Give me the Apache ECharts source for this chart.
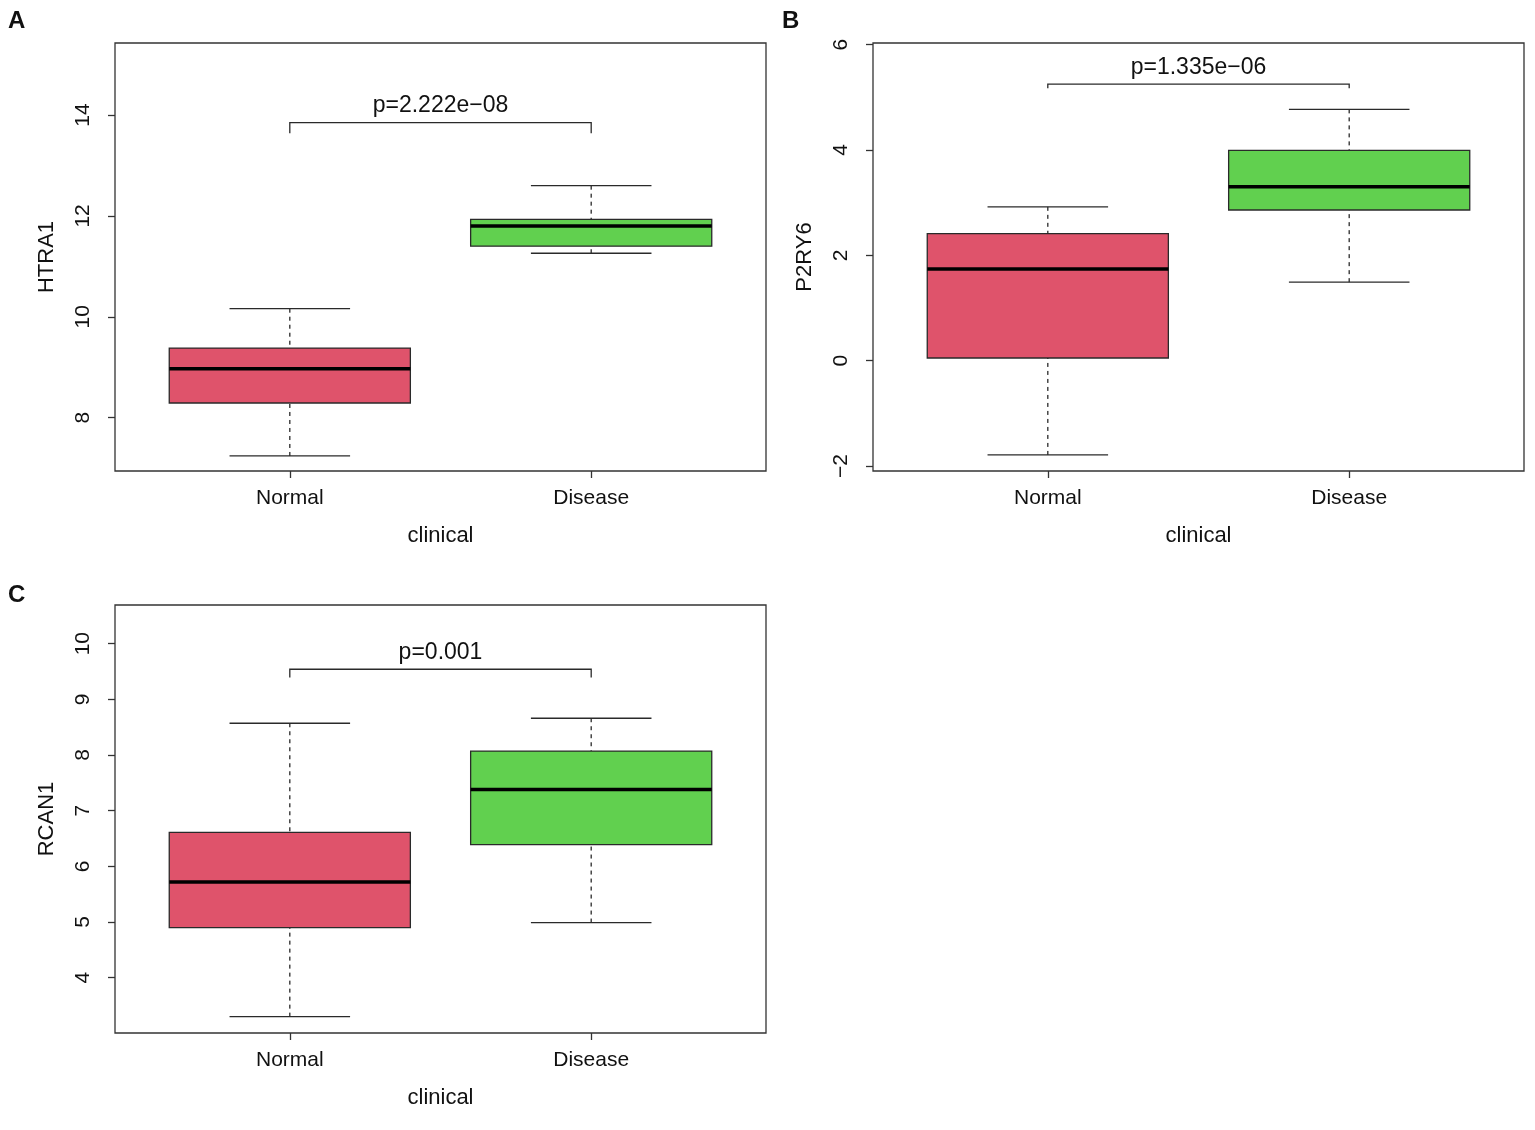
<!DOCTYPE html>
<html><head><meta charset="utf-8">
<script src="https://cdn.jsdelivr.net/npm/echarts@6/dist/echarts.min.js"></script>
<style>html,body{margin:0;padding:0;background:#fff}#c{width:1535px;height:1130px}</style>
</head><body><div id="c"></div>
<script>
// ---- data ----
const categories = ['Normal', 'Disease'];
const genes = ['HTRA1', 'P2RY6', 'RCAN1'];
const panelLetters = ['A', 'B', 'C'];
// [lower whisker, Q1, median, Q3, upper whisker]
const htra1Normal  = [7.24, 8.29, 8.97, 9.38, 10.16];
const htra1Disease = [11.26, 11.40, 11.80, 11.93, 12.60];
const p2ry6Normal  = [-1.79, 0.05, 1.74, 2.41, 2.92];
const p2ry6Disease = [1.49, 2.86, 3.30, 3.99, 4.77];
const rcan1Normal  = [3.30, 4.90, 5.72, 6.61, 8.57];
const rcan1Disease = [4.99, 6.39, 7.38, 8.07, 8.66];
const pLabels = ['p=2.222e\u221208', 'p=1.335e\u221206', 'p=0.001'];
const bracketTop = [13.85, 5.25, 9.54];
const bracketEnd = [13.64, 5.17, 9.39];
const yTicksA = [8, 10, 12, 14];
const yTicksB = [-2, 0, 2, 4, 6];
const yTicksC = [4, 5, 6, 7, 8, 9, 10];
const yMinA = 6.942, yMaxA = 15.429;
const yMinB = -2.095, yMaxB = 6.03;
const yMinC = 3.006, yMaxC = 10.694;

// ---- build ----
const FONT = '"Liberation Sans", Arial, Helvetica, sans-serif';
const boxColors = ['#DF536B', '#61D04F'];
const LINE = '#2a2a2a';
const statsList = [[htra1Normal, htra1Disease], [p2ry6Normal, p2ry6Disease], [rcan1Normal, rcan1Disease]];
const yTicks = [yTicksA, yTicksB, yTicksC];
const yRanges = [[yMinA, yMaxA], [yMinB, yMaxB], [yMinC, yMaxC]];
const gridPos = [
  {left: 115, top: 43, width: 651, height: 428},
  {left: 873, top: 43, width: 651, height: 428},
  {left: 115, top: 605, width: 651, height: 428}
];
const titlePos = [{left: 8, top: 9}, {left: 782, top: 9}, {left: 8, top: 583}];

function boxItem(params, api) {
  const x = api.value(0);
  const v = [1, 2, 3, 4, 5].map(i => api.value(i));
  const px = api.coord([x, v[2]])[0];
  const Y = t => api.coord([x, t])[1];
  const hb = api.size([0.4, 0])[0];
  const hc = api.size([0.2, 0])[0];
  const color = boxColors[params.dataIndex];
  const ls = {stroke: LINE, lineWidth: 1.3};
  return {type: 'group', children: [
    {type: 'line', shape: {x1: px, y1: Y(v[0]), x2: px, y2: Y(v[1])}, style: Object.assign({lineDash: [4, 4]}, ls)},
    {type: 'line', shape: {x1: px, y1: Y(v[4]), x2: px, y2: Y(v[3])}, style: Object.assign({lineDash: [4, 4]}, ls)},
    {type: 'line', shape: {x1: px - hc, y1: Y(v[0]), x2: px + hc, y2: Y(v[0])}, style: ls},
    {type: 'line', shape: {x1: px - hc, y1: Y(v[4]), x2: px + hc, y2: Y(v[4])}, style: ls},
    {type: 'rect', shape: {x: px - hb, y: Y(v[3]), width: 2 * hb, height: Y(v[1]) - Y(v[3])},
      style: {fill: color, stroke: LINE, lineWidth: 1.3}},
    {type: 'line', shape: {x1: px - hb, y1: Y(v[2]), x2: px + hb, y2: Y(v[2])}, style: {stroke: '#000', lineWidth: 3.5}}
  ]};
}

function bracketItemFor(k) {
  return function (params, api) {
    const a = api.coord([api.value(0), api.value(2)]);
    const b = api.coord([api.value(1), api.value(2)]);
    const e = api.coord([api.value(0), api.value(3)])[1];
    const ls = {stroke: LINE, lineWidth: 1.3, fill: null};
    return {type: 'group', children: [
      {type: 'polyline', shape: {points: [[a[0], e], a, b, [b[0], e]]}, style: ls},
      {type: 'text', x: (a[0] + b[0]) / 2, y: a[1] - 5,
        style: {text: pLabels[k], fontSize: 23, fontFamily: FONT, fill: '#111', align: 'center', verticalAlign: 'bottom'}}
    ]};
  };
}

const option = {
  backgroundColor: '#fff',
  animation: false,
  title: panelLetters.map((t, i) => ({text: t, left: titlePos[i].left, top: titlePos[i].top, padding: 0,
    textStyle: {fontSize: 24, fontWeight: 'bold', fontFamily: FONT, color: '#111'}})),
  grid: gridPos.map(g => Object.assign({show: true, borderColor: '#333', borderWidth: 1.3, backgroundColor: 'transparent'}, g)),
  xAxis: gridPos.map((g, i) => ({
    type: 'value', gridIndex: i, min: 0.42, max: 2.58, position: 'bottom',
    splitLine: {show: false}, axisLine: {show: false, onZero: false},
    axisTick: {show: true, customValues: [1, 2], length: 7, lineStyle: {color: '#333', width: 1.3}},
    axisLabel: {customValues: [1, 2], formatter: v => categories[Math.round(v) - 1], margin: 17,
      fontSize: 21, color: '#111', fontFamily: FONT},
    name: 'clinical', nameLocation: 'middle', nameGap: 54,
    nameTextStyle: {fontSize: 22, color: '#111', fontFamily: FONT}
  })),
  yAxis: gridPos.map((g, i) => ({
    type: 'value', gridIndex: i, min: yRanges[i][0], max: yRanges[i][1], position: 'left',
    splitLine: {show: false}, axisLine: {show: false, onZero: false},
    axisTick: {show: true, customValues: yTicks[i], length: 7, lineStyle: {color: '#333', width: 1.3}},
    axisLabel: {customValues: yTicks[i], rotate: 90, margin: 21, fontSize: 21, color: '#111', fontFamily: FONT,
      formatter: v => String(v).replace('-', '\u2212')},
    name: genes[i], nameLocation: 'middle', nameGap: 57, nameRotate: 90,
    nameTextStyle: {fontSize: 22, color: '#111', fontFamily: FONT}
  })),
  series: []
};
statsList.forEach((pair, i) => {
  option.series.push({
    type: 'custom', xAxisIndex: i, yAxisIndex: i, renderItem: boxItem, clip: false,
    encode: {x: 0, y: [1, 2, 3, 4, 5]},
    data: pair.map((s, j) => [j + 1].concat(s))
  });
  option.series.push({
    type: 'custom', xAxisIndex: i, yAxisIndex: i, renderItem: bracketItemFor(i), clip: false,
    encode: {x: [0, 1], y: [2, 3]},
    data: [[1, 2, bracketTop[i], bracketEnd[i]]]
  });
});
const chart = echarts.init(document.getElementById('c'), null, {renderer: 'canvas'});
chart.setOption(option);
</script></body></html>
